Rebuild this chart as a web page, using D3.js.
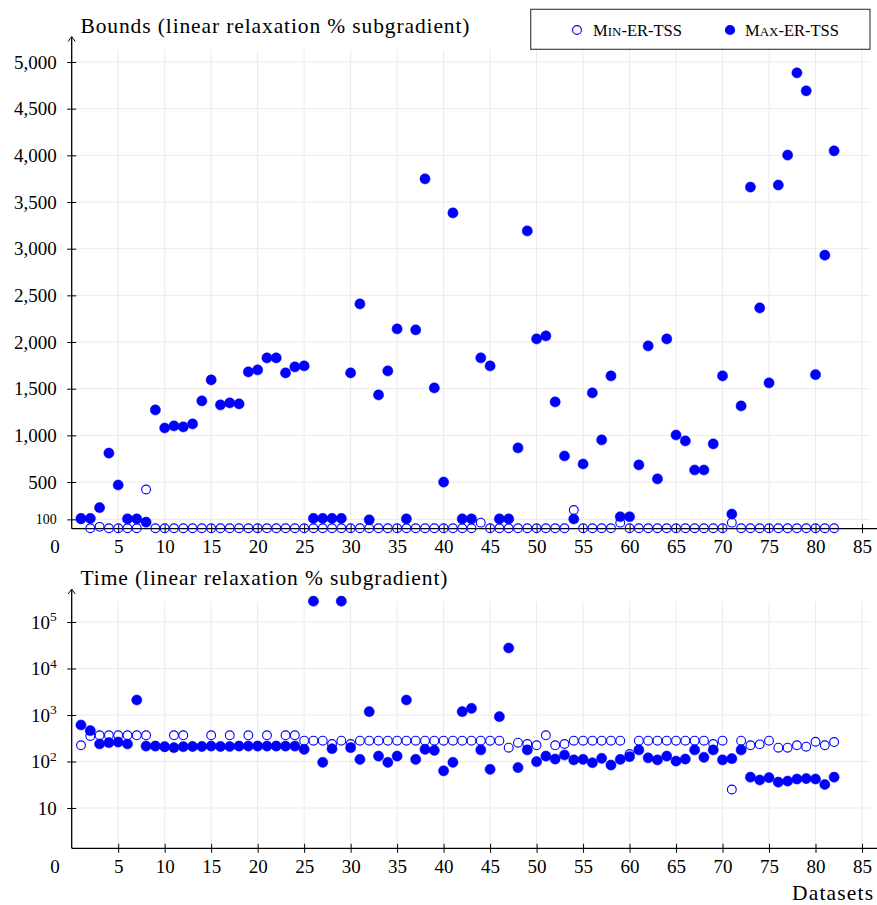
<!DOCTYPE html>
<html><head><meta charset="utf-8">
<script src="https://cdn.jsdelivr.net/npm/d3@7"></script>
<style>
body{margin:0;background:#fff}
text{font-family:"Liberation Serif","Times New Roman",serif;fill:#000}
</style>
</head><body><svg id="c" width="877" height="905"></svg>
<script>
const datasets = d3.range(1, 83);
const boundsMin = [100,5,20,5,5,5,5,420,5,5, 5,5,5,5,5,5,5,5,5,5, 5,5,5,5,5,5,5,5,5,5, 5,5,5,5,5,5,5,5,5,5, 5,5,5,65,5,5,5,5,5,5, 5,5,5,200,5,5,5,5,65,5, 5,5,5,5,5,5,5,5,5,5, 65,5,5,5,5,5,5,5,5,5, 5,5];
const boundsMax = [110,110,225,810,468,105,105,70,1272,1079, 1101,1090,1122,1369,1594,1326,1347,1337,1680,1701, 1830,1830,1669,1733,1744,110,110,110,110,1669, 2408,95,1433,1690,2140,105,2130,3748,1508,500, 3383,105,105,1830,1744,105,105,865,3190,2033, 2065,1358,779,104,693,1455,951,1637,128,128, 683,1958,533,2033,1004,940,629,629,908,1637, 157,1315,3660,2365,1562,3682,4003,4884,4691,1650, 2930,4048];
const timeMin = [223,353,366,366,366,366,366,366,215,205, 366,366,210,210,366,210,366,215,366,215, 366,215,366,366,280,280,280,238,280,238, 280,280,280,280,280,280,280,280,280,280, 280,280,280,280,280,280,198,254,238,223, 366,223,238,280,280,280,280,280,280,145, 280,280,280,280,280,280,280,280,238,280, 25,280,223,234,280,198,198,223,208,266, 223,262];
const timeMax = [610,460,238,254,262,238,2100,215,215,208, 198,208,210,210,215,210,210,215,215,215, 215,215,215,215,183,280000,96,188,280000,198, 111,1180,131,96,131,2100,111,183,174,63, 96,1180,1390,177,68,920,27600,74,177,99, 131,113,138,108,111,94,117,84,111,127, 177,120,108,131,102,113,177,123,177,108, 115,177,46,40,45,36,38,42,43,42, 32,46];
const xTicks = [5,10,15,20,25,30,35,40,45,50,55,60,65,70,75,80,85];
const boundsTicks = [100,500,1000,1500,2000,2500,3000,3500,4000,4500,5000];
const timeTicks = [10,100,1000,10000,100000];
const seriesNames = ["Min-ER-TSS","Max-ER-TSS"];

const svg = d3.select("#c");
const blue = "#0000ff";
const grid = "#ebebeb";
const plotRight = 870;

const x = d3.scaleLinear().domain([0, 85]).range([71.7, 862]);
const yB = d3.scaleLinear().domain([0, 5000]).range([528.7, 62]);
const yT = d3.scaleLog().domain([1, 1e5]).range([854.5, 622]);

function panel(y, yTicks, topPix, axisY, arrowTip, fmt, minData, maxData, xLabelY, title, titleY, titleLen) {
  const g = svg.append("g");
  g.selectAll(null).data(xTicks).join("line")
    .attr("x1", d => x(d)).attr("x2", d => x(d))
    .attr("y1", topPix).attr("y2", axisY)
    .attr("stroke", grid).attr("stroke-width", 1);
  g.selectAll(null).data(yTicks).join("line")
    .attr("x1", x(0)).attr("x2", plotRight)
    .attr("y1", d => y(d)).attr("y2", d => y(d))
    .attr("stroke", grid).attr("stroke-width", 1);

  const ya = g.append("g").attr("transform", `translate(${x(0)},0)`)
    .call(d3.axisLeft(y).tickValues(yTicks).tickSize(0).tickPadding(15).tickFormat(() => ""));
  ya.select(".domain").remove();
  ya.selectAll(".tick line").attr("x1", -4.5).attr("x2", 4.5).attr("stroke", "#000").attr("stroke-width", 1);
  ya.selectAll(".tick text").each(function(d) { fmt(d3.select(this), d); })
    .attr("font-family", '"Liberation Serif",serif').attr("fill", "#000");

  const xa = g.append("g").attr("transform", `translate(0,${axisY})`)
    .call(d3.axisBottom(x).tickValues(xTicks).tickSize(0).tickFormat(d3.format("d")));
  xa.select(".domain").remove();
  xa.selectAll(".tick line").attr("y1", -4.5).attr("y2", 4.5).attr("stroke", "#000").attr("stroke-width", 1);
  xa.selectAll(".tick text").attr("y", xLabelY - axisY).attr("dy", 0)
    .attr("font-size", 19).attr("font-family", '"Liberation Serif",serif').attr("fill", "#000");

  g.append("line").attr("x1", x(0)).attr("x2", 877).attr("y1", axisY).attr("y2", axisY)
    .attr("stroke", "#000").attr("stroke-width", 1.3);
  g.append("line").attr("x1", x(0)).attr("x2", x(0)).attr("y1", axisY).attr("y2", arrowTip + 1)
    .attr("stroke", "#000").attr("stroke-width", 1.3);
  g.append("path")
    .attr("d", `M${x(0)-3.5},${arrowTip+5} Q${x(0)-1},${arrowTip+1.5} ${x(0)},${arrowTip} Q${x(0)+1},${arrowTip+1.5} ${x(0)+3.5},${arrowTip+5}`)
    .attr("fill", "none").attr("stroke", "#000").attr("stroke-width", 1);

  g.append("text").attr("x", 55).attr("y", xLabelY).attr("text-anchor", "middle")
    .attr("font-size", 19).text("0");

  g.append("text").attr("x", 80.5).attr("y", titleY).attr("font-size", 21.5)
    .attr("textLength", titleLen).attr("lengthAdjust", "spacing").text(title);

  g.selectAll(null).data(datasets).join("circle")
    .attr("cx", d => x(d)).attr("cy", (d, i) => y(minData[i])).attr("r", 4.4)
    .attr("fill", "none").attr("stroke", blue).attr("stroke-width", 1.1);
  g.selectAll(null).data(datasets).join("circle")
    .attr("cx", d => x(d)).attr("cy", (d, i) => y(maxData[i])).attr("r", 5.1)
    .attr("fill", blue).attr("stroke", blue).attr("stroke-width", 0.5);
}

const fmtComma = d3.format(",");
panel(yB, boundsTicks, 50, 528.7, 36.5,
  (t, d) => { t.text(fmtComma(d)).attr("font-size", d === 100 ? 14 : 19).attr("dy", "0.32em"); },
  boundsMin, boundsMax, 553, "Bounds (linear relaxation % subgradient)", 33, 389);

panel(yT, timeTicks, 601.7, 848.3, 589,
  (t, d) => {
    const e = Math.round(Math.log10(d));
    t.attr("font-size", 19).attr("dy", "0.32em");
    if (e === 1) { t.text("10"); }
    else {
      t.text("");
      t.append("tspan").text("10");
      t.append("tspan").attr("font-size", 13.5).attr("dy", "-0.55em").text(String(e));
    }
  },
  timeMin, timeMax, 873, "Time (linear relaxation % subgradient)", 585, 367);

svg.append("text").attr("x", 792).attr("y", 900).attr("font-size", 21.5)
  .attr("textLength", 81).attr("lengthAdjust", "spacing").text("Datasets");

const lg = svg.append("g");
lg.append("rect").attr("x", 530.7).attr("y", 9.3).attr("width", 339.3).attr("height", 40)
  .attr("fill", "#fff").attr("stroke", "#444").attr("stroke-width", 1.2);
lg.append("circle").attr("cx", 577).attr("cy", 30).attr("r", 4.4).attr("fill", "none").attr("stroke", blue).attr("stroke-width", 1.1);
lg.append("circle").attr("cx", 730).attr("cy", 30).attr("r", 5.1).attr("fill", blue);
function smallCaps(xp, name) {
  const t = lg.append("text").attr("x", xp).attr("y", 35.5).attr("font-size", 16.5);
  const m = name.match(/^(\w)(\w+)(-.*)$/);
  t.append("tspan").text(m[1]);
  t.append("tspan").attr("font-size", 13).text(m[2].toUpperCase());
  t.append("tspan").text(m[3]);
}
smallCaps(593, seriesNames[0]);
smallCaps(745, seriesNames[1]);
</script>
</body></html>
